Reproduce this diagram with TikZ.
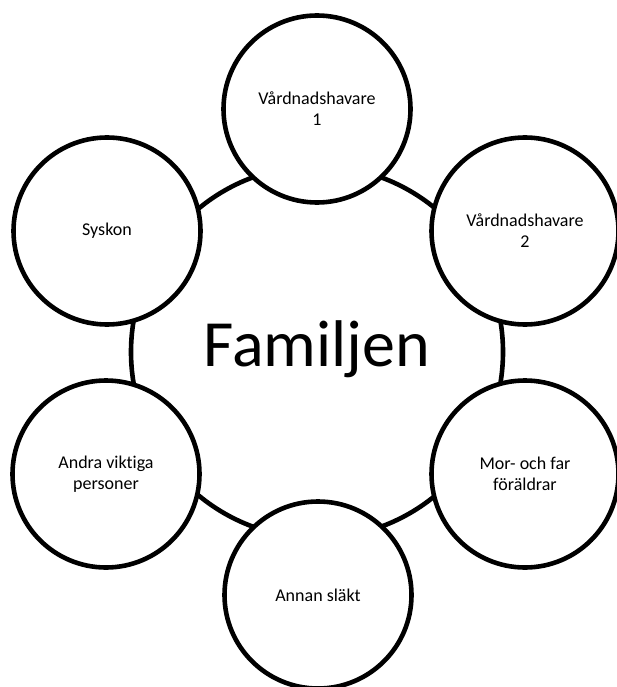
\documentclass[tikz,border=0pt]{standalone}
\usepackage{fontspec}
\setmainfont[Ligatures=NoCommon]{Carlito}
\begin{document}
\begin{tikzpicture}[x=1pt,y=-1pt,line width=4.6pt,
  bigring/.style={circle,draw=black,minimum size=372pt,inner sep=0pt},
  member/.style={circle,draw=black,fill=white,minimum size=187pt,inner sep=0pt,align=center,font=\fontsize{18}{21}\selectfont},
  title/.style={inner sep=0pt,font=\fontsize{66}{70}\selectfont}]
\useasboundingbox (0,0) rectangle (616,687);
\node[bigring] (ring) at (317,352) {};
\node[title] (fam) at (317,349) {Familjen};
\node[member] (v1) at (317,109) {Vårdnadshavare\\1};
\node[member] (v2) at (525,231) {Vårdnadshavare\\2};
\node[member] (mf) at (525,474) {Mor- och far\\föräldrar};
\node[member] (as) at (318,595) {Annan släkt};
\node[member] (av) at (106,474) {Andra viktiga\\personer};
\node[member] (sy) at (107,231) {Syskon};
\end{tikzpicture}
\end{document}
